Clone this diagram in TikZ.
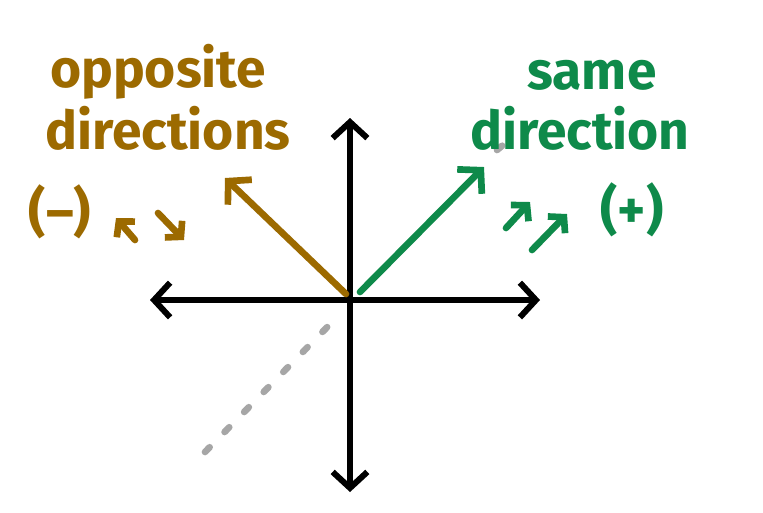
\documentclass[tikz,border=0pt]{standalone}
\usepackage{fontspec}
\setmainfont{Fira Sans}
\usetikzlibrary{arrows.meta}
\definecolor{brn}{HTML}{9C6A00}
\definecolor{grn}{HTML}{0E8A4A}
\tikzset{
  ax/.style={line width=4.5pt,line cap=round,-{Straight Barb[length=12pt,width=26pt,line width=4.5pt]}},
  vec/.style={line width=5pt,line cap=round,-{Straight Barb[length=12pt,width=26pt,line width=5pt]}},
  small/.style={line width=5pt,line cap=round,-{Straight Barb[length=8pt,width=18pt,line width=5pt]}},
  lbl/.style={font=\fontsize{40}{40}\selectfont\bfseries,inner sep=0pt},
  graydash/.style={line width=5pt,gray!70,line cap=round,dash pattern=on 5pt off 16pt}
}
\begin{document}
\begin{tikzpicture}[x=0.75pt,y=-0.75pt]
\useasboundingbox[fill=white] (0,0) rectangle (763,512);
\coordinate (o) at (350,300);
\coordinate (dl) at (205,452); \coordinate (dm) at (338,316);
\coordinate (du) at (497,150); \coordinate (du2) at (515,135);
\draw[graydash] (dl) -- (dm);
\draw[graydash] (du) -- (du2);
\coordinate (l) at (150,300); \coordinate (r) at (540,300);
\coordinate (t) at (350,118); \coordinate (b) at (350,492);
\draw[ax] (o) -- (l); \draw[ax] (o) -- (r);
\draw[ax] (o) -- (t); \draw[ax] (o) -- (b);
\coordinate (bs) at (346,294); \coordinate (be) at (225,178);
\draw[vec,brn] (bs) -- (be);
\coordinate (gs) at (360,292); \coordinate (ge) at (484,167);
\draw[vec,grn] (gs) -- (ge);
\coordinate (a1) at (135,240); \coordinate (a2) at (116,218);
\coordinate (a3) at (158,213); \coordinate (a4) at (184,240);
\draw[small,brn] (a1) -- (a2); \draw[small,brn] (a3) -- (a4);
\coordinate (g1) at (506,228); \coordinate (g2) at (530,202);
\coordinate (g3) at (532,250); \coordinate (g4) at (567,214);
\draw[small,grn] (g1) -- (g2); \draw[small,grn] (g3) -- (g4);
\node[lbl,brn] (t1) at (158,72) {opposite};
\node[lbl,brn] (t2) at (168,128) {directions};
\node[lbl,brn] (t3) at (60,212) {(–)};
\node[lbl,grn] (t4) at (592,75) {same};
\node[lbl,grn] (t5) at (580,128) {direction};
\node[lbl,grn] (t6) at (632,210) {(+)};
\end{tikzpicture}
\end{document}
